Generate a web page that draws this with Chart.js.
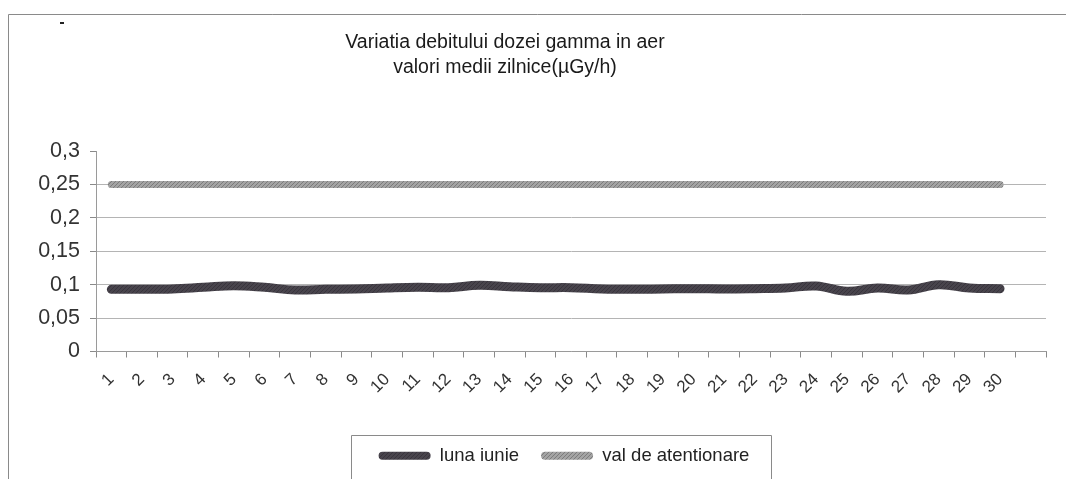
<!DOCTYPE html>
<html>
<head>
<meta charset="utf-8">
<script src="https://cdn.jsdelivr.net/npm/chart.js@4"></script>
<style>
  html, body { margin: 0; padding: 0; background: #fff; }
  #wrap { width: 1066px; height: 479px; position: relative; }
</style>
</head>
<body>
<div id="wrap"><canvas id="chart"></canvas></div>
<script>
// zilele lunii (ultima categorie ramane goala, ca in original)
const days = ['1','2','3','4','5','6','7','8','9','10','11','12','13','14','15',
              '16','17','18','19','20','21','22','23','24','25','26','27','28','29','30',''];

const lunaIunie = [0.093, 0.093, 0.0935, 0.096, 0.0985, 0.096, 0.092, 0.093, 0.0935, 0.095,
                   0.096, 0.0955, 0.099, 0.097, 0.0955, 0.0955, 0.0935, 0.093, 0.0935, 0.094,
                   0.0935, 0.094, 0.095, 0.098, 0.090, 0.095, 0.092, 0.100, 0.095, 0.094];

const valAtentionare = [0.25, 0.25, 0.25, 0.25, 0.25, 0.25, 0.25, 0.25, 0.25, 0.25,
                        0.25, 0.25, 0.25, 0.25, 0.25, 0.25, 0.25, 0.25, 0.25, 0.25,
                        0.25, 0.25, 0.25, 0.25, 0.25, 0.25, 0.25, 0.25, 0.25, 0.25];

const seriesNames = ['luna iunie', 'val de atentionare'];
const titleLines = ['Variatia debitului dozei gamma in aer', 'valori medii zilnice(\u00b5Gy/h)'];

const FONT = '"Liberation Sans", Arial, sans-serif';

// textura de scanare pentru linii
function halftone(base, dark) {
  const c = document.createElement('canvas');
  c.width = 4; c.height = 4;
  const g = c.getContext('2d');
  g.fillStyle = base; g.fillRect(0, 0, 4, 4);
  g.fillStyle = dark;
  g.fillRect(0, 0, 1, 1); g.fillRect(2, 2, 1, 1);
  g.fillRect(1, 3, 1, 1); g.fillRect(3, 1, 1, 1);
  return g.createPattern(c, 'repeat');
}
const darkLine = halftone('#48444c', '#38343c');
const grayLine = halftone('#a4a4a4', '#7c7c7c');

const decor = {
  id: 'decor',
  afterUpdate(chart) {
    // legenda e putin spre dreapta si mai sus in original
    const lg = chart.legend, dx = 37, dy = -4;
    lg.left += dx; lg.right += dx;
    lg.top += dy; lg.bottom += dy;
    (lg.legendHitBoxes || []).forEach(b => { b.left += dx; b.top += dy; });
  },
  afterDraw(chart) {
    const ctx = chart.ctx;
    ctx.save();
    // rama
    ctx.strokeStyle = '#8a8a8a';
    ctx.lineWidth = 1;
    ctx.beginPath();
    ctx.moveTo(8.5, 479);
    ctx.lineTo(8.5, 14.5);
    ctx.lineTo(1066, 14.5);
    ctx.stroke();
    // mic semn din scan
    ctx.fillStyle = '#222';
    ctx.fillRect(60, 22, 4, 2);
    // titlu
    ctx.fillStyle = '#1a1a1a';
    ctx.font = '19.5px ' + FONT;
    ctx.textAlign = 'center';
    ctx.textBaseline = 'middle';
    ctx.fillText(titleLines[0], 505, 43);
    ctx.fillText(titleLines[1], 505, 68);
    // chenar legenda
    const hb = chart.legend.legendHitBoxes;
    if (hb && hb.length) {
      const l = Math.min(...hb.map(b => b.left)) - 28;
      const r = Math.max(...hb.map(b => b.left + b.width)) + 22;
      const t = hb[0].top + hb[0].height / 2 - 21;
      ctx.strokeStyle = '#8a8a8a';
      ctx.beginPath();
      ctx.moveTo(Math.round(l) + 0.5, 479);
      ctx.lineTo(Math.round(l) + 0.5, Math.round(t) + 0.5);
      ctx.lineTo(Math.round(r) + 0.5, Math.round(t) + 0.5);
      ctx.lineTo(Math.round(r) + 0.5, 479);
      ctx.stroke();
    }
    ctx.restore();
  }
};

new Chart(document.getElementById('chart'), {
  type: 'line',
  data: {
    labels: days,
    datasets: [{
      label: seriesNames[0],
      data: lunaIunie,
      borderColor: darkLine,
      backgroundColor: darkLine,
      borderWidth: 9,
      borderCapStyle: 'round',
      borderJoinStyle: 'round',
      tension: 0.4,
      pointRadius: 0
    }, {
      label: seriesNames[1],
      data: valAtentionare,
      borderColor: grayLine,
      backgroundColor: grayLine,
      borderWidth: 7,
      borderCapStyle: 'round',
      pointRadius: 0
    }]
  },
  options: {
    responsive: true,
    maintainAspectRatio: false,
    animation: false,
    layout: { padding: { top: 151, left: 8, right: 20, bottom: 0 } },
    plugins: {
      title: { display: false },
      tooltip: { enabled: false },
      legend: {
        position: 'bottom',
        labels: {
          boxWidth: 52,
          boxHeight: 8,
          padding: 22,
          color: '#222',
          font: { family: FONT, size: 18.5 },
          generateLabels(chart) {
            return Chart.defaults.plugins.legend.labels.generateLabels(chart).map(it => {
              it.lineWidth = 0;
              it.borderRadius = 4;
              return it;
            });
          }
        }
      }
    },
    scales: {
      x: {
        offset: true,
        grid: { offset: true, drawOnChartArea: false, tickLength: 6, color: '#8a8a8a' },
        border: { color: '#9a9a9a' },
        ticks: {
          autoSkip: false, minRotation: 45, maxRotation: 45,
          color: '#333', padding: 12,
          font: { family: FONT, size: 17 }
        },
        afterFit(s) { s.height = 77; }
      },
      y: {
        min: 0,
        max: 0.3,
        border: { color: '#9a9a9a' },
        grid: {
          color: c => (c.tick && c.tick.value > 0.29) ? 'rgba(0,0,0,0)' : '#b4b4b4',
          tickColor: '#8a8a8a',
          tickLength: 6
        },
        ticks: {
          stepSize: 0.05,
          color: '#333',
          padding: 10,
          font: { family: FONT, size: 21.5 },
          callback: v => String(Math.round(v * 100) / 100).replace('.', ',')
        },
        afterFit(s) { s.width = 88; }
      }
    }
  },
  plugins: [decor]
});
</script>
</body>
</html>
